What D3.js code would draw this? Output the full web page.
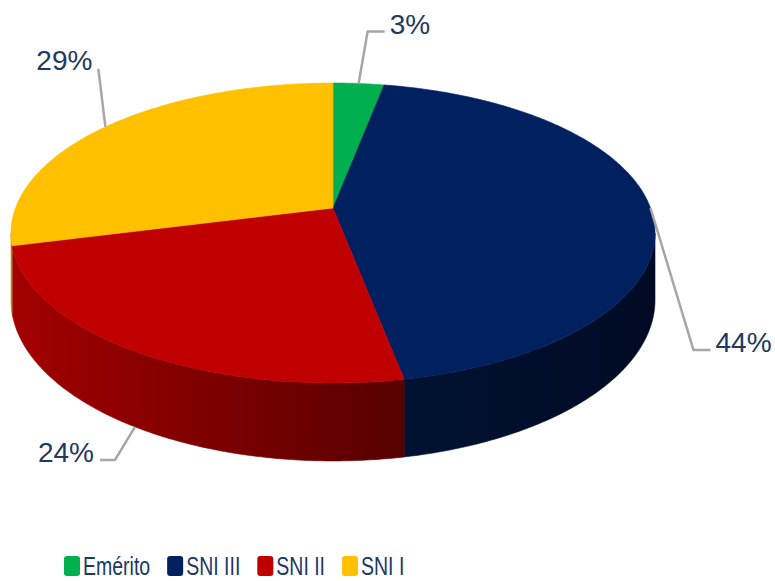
<!DOCTYPE html>
<meta charset="utf-8">
<style>
body { margin: 0; background: #fff; }
svg { font-family: "Liberation Sans", Arial, sans-serif; }
</style>
<body>
<script src="https://cdn.jsdelivr.net/npm/d3@7/dist/d3.min.js"></script>
<script>

// data
var categories = ["Emérito", "SNI III", "SNI II", "SNI I"];
var shares = [3, 44, 24, 29];

// colours (top face, side light, side dark)
var topColors = ["#00b050", "#002060", "#c00000", "#ffc000"];
var sideLight = ["#008a3e", "#001232", "#a30000", "#c29200"];
var sideDark  = ["#006a30", "#000a24", "#580000", "#a07800"];

// leader layout, offsets from the slice anchor: elbow and end of line
var leaders = [
  {ex: 9,   ey: -52, tx: 26,  ty: -52, side: "right"},
  {ex: 43,  ey: 142, tx: 60,  ty: 142, side: "right"},
  {ex: -20, ey: 33,  tx: -35, ty: 33,  side: "left"},
  {ex: -7,  ey: -58, tx: -7,  ty: -58, side: "left"}
];

var width = 775, height = 581;

// 3d pie geometry
var cx = 333, cy = 208,
    fx = 317.5, fy = 145.8,
    persp = 1 / 6,
    depth = 65;

var thetaL = Math.acos(-persp),
    thetaR = 2 * Math.PI - Math.acos(-persp);

function proj(theta, down) {
  var u = Math.sin(theta), v = -Math.cos(theta);
  var w = 1 - persp * v;
  return [cx + fx * u / w, cy + fy * v / w + (down ? depth / w : 0)];
}

function arcPoints(a0, a1, down) {
  var n = Math.max(2, Math.ceil((a1 - a0) / 0.01));
  return d3.range(n + 1).map(function(i) {
    return proj(a0 + (a1 - a0) * i / n, down);
  });
}

var line = d3.line();

var svg = d3.select("body").append("svg")
  .attr("width", width)
  .attr("height", height);

var defs = svg.append("defs");

var arcs = d3.pie().sort(null).value(function(d) { return d; })(shares);

// side gradients
arcs.forEach(function(a, i) {
  var g = defs.append("linearGradient")
    .attr("id", "side" + i)
    .attr("x1", 0).attr("x2", 1).attr("y1", 0).attr("y2", 0);
  g.append("stop").attr("offset", 0).attr("stop-color", sideLight[i]);
  g.append("stop").attr("offset", 1).attr("stop-color", sideDark[i]);
});

// side walls (front half only)
var sides = svg.append("g");
arcs.forEach(function(a, i) {
  var lo = Math.max(a.startAngle, thetaL),
      hi = Math.min(a.endAngle, thetaR);
  if (lo >= hi) return;
  var pts = arcPoints(lo, hi, false).concat(arcPoints(lo, hi, true).reverse());
  sides.append("path")
    .attr("d", line(pts) + "Z")
    .attr("fill", "url(#side" + i + ")")
    .attr("stroke", "url(#side" + i + ")")
    .attr("stroke-width", 0.6);
});

// top faces
var tops = svg.append("g");
arcs.forEach(function(a, i) {
  var pts = [[cx, cy]].concat(arcPoints(a.startAngle, a.endAngle, false));
  tops.append("path")
    .attr("d", line(pts) + "Z")
    .attr("fill", topColors[i])
    .attr("stroke", topColors[i])
    .attr("stroke-width", 0.6);
});

// labels with leader lines
var fmt = d3.format(".0%");
var total = d3.sum(shares);
var labels = svg.append("g");
arcs.forEach(function(a, i) {
  var mid = (a.startAngle + a.endAngle) / 2;
  var front = mid > thetaL && mid < thetaR;
  var p = proj(mid, front);
  var L = leaders[i];
  var pts = [p, [p[0] + L.ex, p[1] + L.ey], [p[0] + L.tx, p[1] + L.ty]];
  labels.append("path")
    .attr("d", line(pts))
    .attr("fill", "none")
    .attr("stroke", "#a6a6a6")
    .attr("stroke-width", 2.5);
  var right = L.side === "right";
  labels.append("text")
    .attr("x", pts[2][0] + (right ? 5 : -6))
    .attr("y", pts[2][1] + (i === 3 ? 1 : 2))
    .attr("text-anchor", right ? "start" : "end")
    .attr("fill", "#203864")
    .style("font-size", "28px")
    .text(fmt(a.data / total));
});

// legend
var legend = svg.append("g");
var lx = 64, squeeze = 0.78;
categories.forEach(function(c, i) {
  legend.append("rect")
    .attr("x", lx).attr("y", 556)
    .attr("width", 16).attr("height", 20)
    .attr("rx", 3)
    .attr("fill", topColors[i]);
  var t = legend.append("text")
    .attr("transform", "translate(" + (lx + 19) + ",575) scale(" + squeeze + ",1)")
    .attr("fill", "#203864")
    .style("font-size", "25px")
    .text(c);
  lx += 19 + t.node().getComputedTextLength() * squeeze + 17;
});

</script>
</body>
